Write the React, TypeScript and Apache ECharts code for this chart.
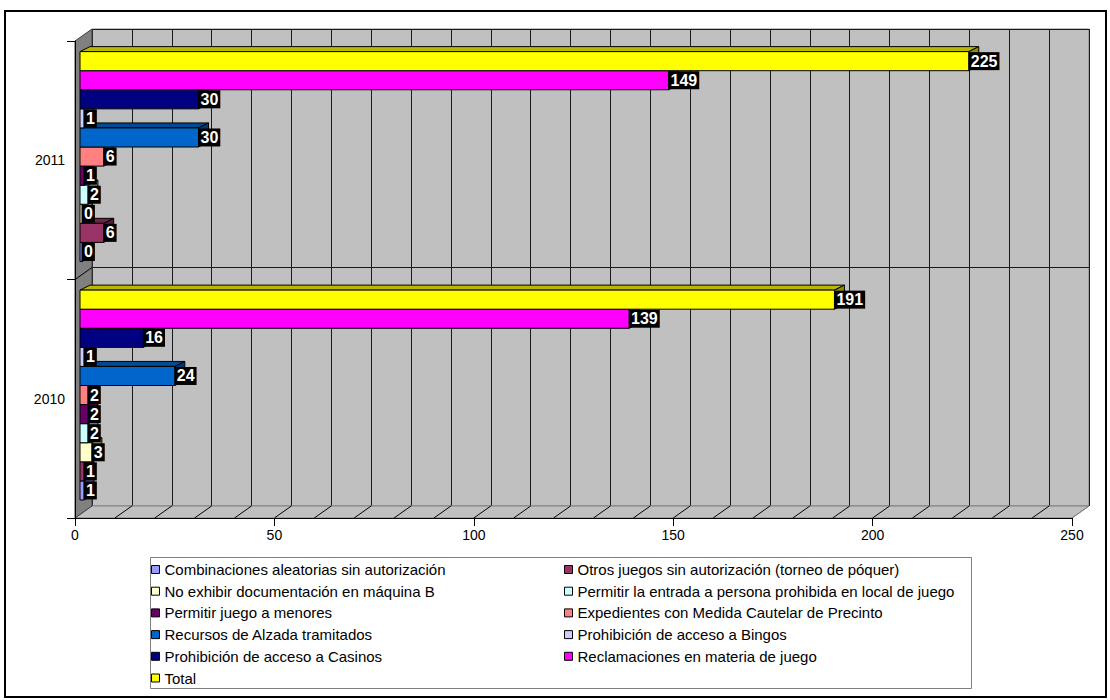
import React, { useEffect, useRef } from 'react';
import * as echarts from 'echarts';

const years = ['2010', '2011'];
const seriesNames = [
  'Combinaciones aleatorias sin autorización',
  'Otros juegos sin autorización (torneo de póquer)',
  'No exhibir documentación en máquina B',
  'Permitir la entrada a persona prohibida en local de juego',
  'Permitir juego a menores',
  'Expedientes con Medida Cautelar de Precinto',
  'Recursos de Alzada tramitados',
  'Prohibición de acceso a Bingos',
  'Prohibición de acceso a Casinos',
  'Reclamaciones en materia de juego',
  'Total',
];
const values2010 = [1, 1, 3, 2, 2, 2, 24, 1, 16, 139, 191];
const values2011 = [0, 6, 0, 2, 1, 6, 30, 1, 30, 149, 225];
const colors = ['#9999FF', '#993366', '#FFFFCC', '#CCFFFF', '#660066', '#FF8080', '#0066CC', '#CCCCFF', '#000080', '#FF00FF', '#FFFF00'];
const axisMax = 250;
const axisStep = 50;
const wallStep = 10;

const FONT = '"Liberation Sans", Arial, sans-serif';

// layout (pixels)
const W = 1110;
const H = 700;
const front = { left: 75, right: 1072, top: 41, bottom: 518 };
const depth = { dx: 17, dy: 12 };
const back = { left: front.left + depth.dx, right: front.right + depth.dx, top: front.top - depth.dy, bottom: front.bottom - depth.dy };

function shade(hex: string, f: number): string {
  const n = parseInt(hex.slice(1), 16);
  const r = Math.round(((n >> 16) & 255) * f);
  const g = Math.round(((n >> 8) & 255) * f);
  const b = Math.round((n & 255) * f);
  return `rgb(${r},${g},${b})`;
}

export default function App() {
  const ref = useRef<HTMLDivElement>(null);
  useEffect(() => {
    if (!ref.current) return;
    const chart = echarts.init(ref.current, undefined, { renderer: 'svg' });
    const N = seriesNames.length;

    const series: any[] = seriesNames.map((name, i) => ({
      type: 'custom',
      name,
      xAxisIndex: 2,
      yAxisIndex: 2,
      itemStyle: { color: colors[i] },
      encode: { x: 0, y: 1 },
      data: [[values2010[i], 0], [values2011[i], 1]],
      renderItem: (params: any, api: any) => {
        const v = api.value(0) as number;
        const cat = api.value(1) as number;
        const start = api.coord([0, cat]);
        const end = api.coord([v, cat]);
        const band = (api.size([0, 1]) as number[])[1];
        const slot = band * 0.08;
        const top = start[1] - (N * slot) / 2 + (N - 1 - i) * slot;
        const x0 = start[0];
        const x1 = Math.max(end[0], x0 + 2);
        const dx = 10;
        const dy = 5;
        const fill = colors[i];
        return {
          type: 'group',
          children: [
            {
              type: 'polygon',
              z2: i,
              shape: { points: [[x0, top], [x1, top], [x1 + dx, top - dy], [x0 + dx, top - dy]] },
              style: { fill: shade(fill, 0.72), stroke: '#000', lineWidth: 1 },
            },
            {
              type: 'polygon',
              z2: i,
              shape: { points: [[x1, top], [x1 + dx, top - dy], [x1 + dx, top + slot - dy], [x1, top + slot]] },
              style: { fill: shade(fill, 0.55), stroke: '#000', lineWidth: 1 },
            },
            {
              type: 'rect',
              z2: i,
              shape: { x: x0, y: top, width: x1 - x0, height: slot },
              style: { fill, stroke: '#000', lineWidth: 1 },
            },
            {
              type: 'text',
              z2: 100,
              x: x1,
              y: top + slot / 2,
              style: {
                text: String(v),
                fill: '#fff',
                backgroundColor: '#000',
                padding: [1, 2, 1, 2],
                font: `bold 16px ${FONT}`,
                lineHeight: 16,
                verticalAlign: 'middle',
                align: 'left',
              },
            },
          ],
        };
      },
    }));

    const graphics: any[] = [];
    // outer border
    graphics.push({
      type: 'rect', z: 0,
      shape: { x: 5, y: 11, width: 1101, height: 686 },
      style: { fill: 'none', stroke: '#000', lineWidth: 2 },
    });
    // legend box
    graphics.push({
      type: 'rect', z: 0,
      shape: { x: 150.5, y: 557.5, width: 821, height: 131 },
      style: { fill: 'none', stroke: '#808080', lineWidth: 1 },
    });
    // floor
    graphics.push({
      type: 'polygon', z: 1,
      shape: { points: [[front.left, front.bottom], [back.left, back.bottom], [back.right, back.bottom], [front.right, front.bottom]] },
      style: { fill: '#C0C0C0', stroke: '#808080', lineWidth: 1 },
    });
    const nSteps = axisMax / wallStep;
    for (let k = 1; k <= nSteps; k++) {
      const xb = back.left + (k * (back.right - back.left)) / nSteps;
      graphics.push({
        type: 'line', z: 1,
        shape: { x1: xb, y1: back.bottom, x2: xb - depth.dx, y2: front.bottom },
        style: { stroke: k === nSteps ? '#808080' : '#000', lineWidth: 1 },
      });
    }
    // left wall
    graphics.push({
      type: 'polygon', z: 1,
      shape: { points: [[front.left, front.top], [back.left, back.top], [back.left, back.bottom], [front.left, front.bottom]] },
      style: { fill: '#808080', stroke: '#404040', lineWidth: 1 },
    });
    const midF = (front.top + front.bottom) / 2;
    graphics.push({
      type: 'line', z: 1,
      shape: { x1: front.left, y1: midF, x2: back.left, y2: midF - depth.dy },
      style: { stroke: '#000', lineWidth: 1 },
    });

    const legendCommon = {
      top: 561.5, orient: 'vertical', padding: 0,
      itemWidth: 8, itemHeight: 8, itemGap: 5.7, icon: 'rect', selectedMode: false,
      itemStyle: { borderColor: '#000', borderWidth: 1 },
      textStyle: { fontSize: 15, lineHeight: 16, color: '#000', fontFamily: FONT },
    };

    chart.setOption({
      animation: false,
      backgroundColor: '#fff',
      textStyle: { fontFamily: FONT },
      grid: [
        { left: front.left, right: W - front.right, top: front.top, bottom: H - front.bottom, containLabel: false },
        {
          left: back.left, right: W - back.right, top: back.top, bottom: H - back.bottom,
          show: true, backgroundColor: '#C0C0C0', borderColor: '#808080', borderWidth: 1,
        },
        { left: 80, right: W - 80 - 3.95 * axisMax, top: front.top - 3.7, bottom: H - front.bottom + 3.7 },
      ],
      xAxis: [
        {
          gridIndex: 0, type: 'value', min: 0, max: axisMax, interval: axisStep, z: 3,
          axisLine: { show: true, lineStyle: { color: '#000', width: 1 } },
          axisTick: { show: true, length: 8, lineStyle: { color: '#000' } },
          axisLabel: { color: '#000', fontSize: 14, margin: 10, fontFamily: FONT },
          splitLine: { show: false },
        },
        {
          gridIndex: 1, type: 'value', min: 0, max: axisMax, interval: wallStep,
          axisLine: { show: false }, axisTick: { show: false }, axisLabel: { show: false },
          splitLine: { show: true, lineStyle: { color: '#1a1a1a', width: 1 } },
        },
        {
          gridIndex: 2, type: 'value', min: 0, max: axisMax, show: false,
          splitLine: { show: false },
        },
      ],
      yAxis: [
        {
          gridIndex: 0, type: 'category', data: years, z: 3,
          axisLine: { show: true, lineStyle: { color: '#000', width: 1 } },
          axisTick: { show: true, length: 8, lineStyle: { color: '#000' } },
          axisLabel: { color: '#000', fontSize: 14, margin: 10, fontFamily: FONT },
          splitLine: { show: false },
        },
        {
          gridIndex: 1, type: 'category', data: years,
          axisLine: { show: false }, axisTick: { show: false }, axisLabel: { show: false },
          splitLine: { show: true, lineStyle: { color: '#1a1a1a', width: 1 } },
        },
        { gridIndex: 2, type: 'category', data: years, show: false },
      ],
      legend: [
        { ...legendCommon, data: seriesNames.filter((_, k) => k % 2 === 0), left: 151 },
        { ...legendCommon, data: seriesNames.filter((_, k) => k % 2 === 1), left: 564 },
      ],
      graphic: graphics,
      series,
    });
    return () => chart.dispose();
  }, []);
  return <div ref={ref} style={{ position: 'absolute', left: 0, top: 0, width: W, height: H }} />;
}
